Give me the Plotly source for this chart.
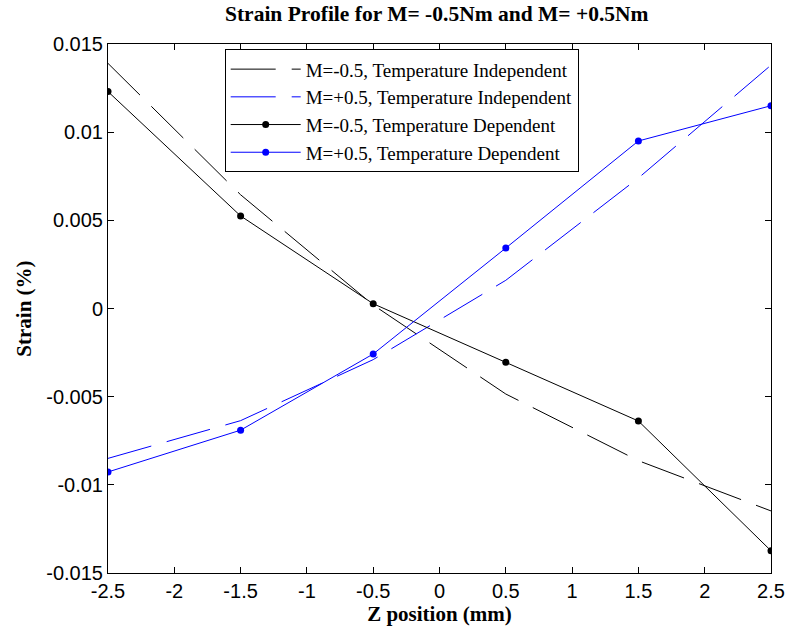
import plotly.graph_objects as go

z = [-2.5, -1.5, -0.5, 0.5, 1.5, 2.5]
neg_indep = [0.0139, 0.00645, 0.0002, -0.00485, -0.00863, -0.01148]
pos_indep = [-0.0085, -0.00636, -0.0029, 0.0016, 0.0074, 0.0138]
neg_dep = [0.0123, 0.00525, 0.00027, -0.00305, -0.00638, -0.01374]
pos_dep = [-0.00927, -0.0069, -0.00258, 0.00343, 0.0095, 0.0115]

yticks = [-0.015, -0.01, -0.005, 0, 0.005, 0.01, 0.015]
ytext = ["-0.015", "-0.01", "-0.005", "0", "0.005", "0.01", "0.015"]
xticks = [-2.5, -2, -1.5, -1, -0.5, 0, 0.5, 1, 1.5, 2, 2.5]
xtext = ["-2.5", "-2", "-1.5", "-1", "-0.5", "0", "0.5", "1", "1.5", "2", "2.5"]

serif = "Liberation Serif, Times New Roman"
sans = "Liberation Sans, Arial"
dash = "45px,16px"
fig = go.Figure()
fig.add_trace(go.Scatter(x=z, y=neg_indep, mode="lines", name="M=-0.5, Temperature Independent",
                         legendgroup="a", line=dict(color="black", width=1, dash=dash)))
fig.add_trace(go.Scatter(x=z, y=pos_indep, mode="lines", name="M=+0.5, Temperature Independent",
                         legendgroup="b", line=dict(color="blue", width=1, dash=dash)))
fig.add_trace(go.Scatter(x=z, y=neg_dep, mode="lines+markers", name="M=-0.5, Temperature Dependent",
                         legendgroup="c", line=dict(color="black", width=1), marker=dict(color="black", size=7)))
fig.add_trace(go.Scatter(x=z, y=pos_dep, mode="lines+markers", name="M=+0.5, Temperature Dependent",
                         legendgroup="d", line=dict(color="blue", width=1), marker=dict(color="blue", size=7)))

tickfont = dict(family=sans, size=20, color="black")
axis_common = dict(showgrid=False, zeroline=False, showline=True, linecolor="black", linewidth=1,
                   mirror="ticks", ticks="inside", ticklen=6, tickcolor="black")
fig.update_layout(
    width=797, height=632,
    margin=dict(l=108, r=19, t=44, b=59),
    paper_bgcolor="white", plot_bgcolor="white",
    title=dict(text="<b>Strain Profile for M= -0.5Nm and M= +0.5Nm</b>", x=0.548, xanchor="center",
               y=0.978, yanchor="middle",
               font=dict(family=serif, size=21.5, color="black")),
    xaxis=dict(range=[-2.5, 2.5], tickvals=xticks, ticktext=xtext, tickfont=tickfont,
               title=dict(text="<b>Z position (mm)</b>", standoff=2,
                          font=dict(family=serif, size=21, color="black")),
               **axis_common),
    yaxis=dict(range=[-0.015, 0.015], tickvals=yticks, ticktext=ytext, tickfont=tickfont,
               **axis_common),
    legend=dict(x=0.176, y=0.99, xanchor="left", yanchor="top", bgcolor="white",
                bordercolor="black", borderwidth=1, itemwidth=70,
                font=dict(family=serif, size=19, color="black"),
                tracegroupgap=0),
    annotations=[dict(text="<b>Strain (%)</b>", xref="paper", yref="paper",
                      x=-0.128, y=0.5, xanchor="center", yanchor="middle", textangle=-90,
                      showarrow=False, font=dict(family=serif, size=21, color="black"))],
    showlegend=True,
)
fig.write_html("out.html")
